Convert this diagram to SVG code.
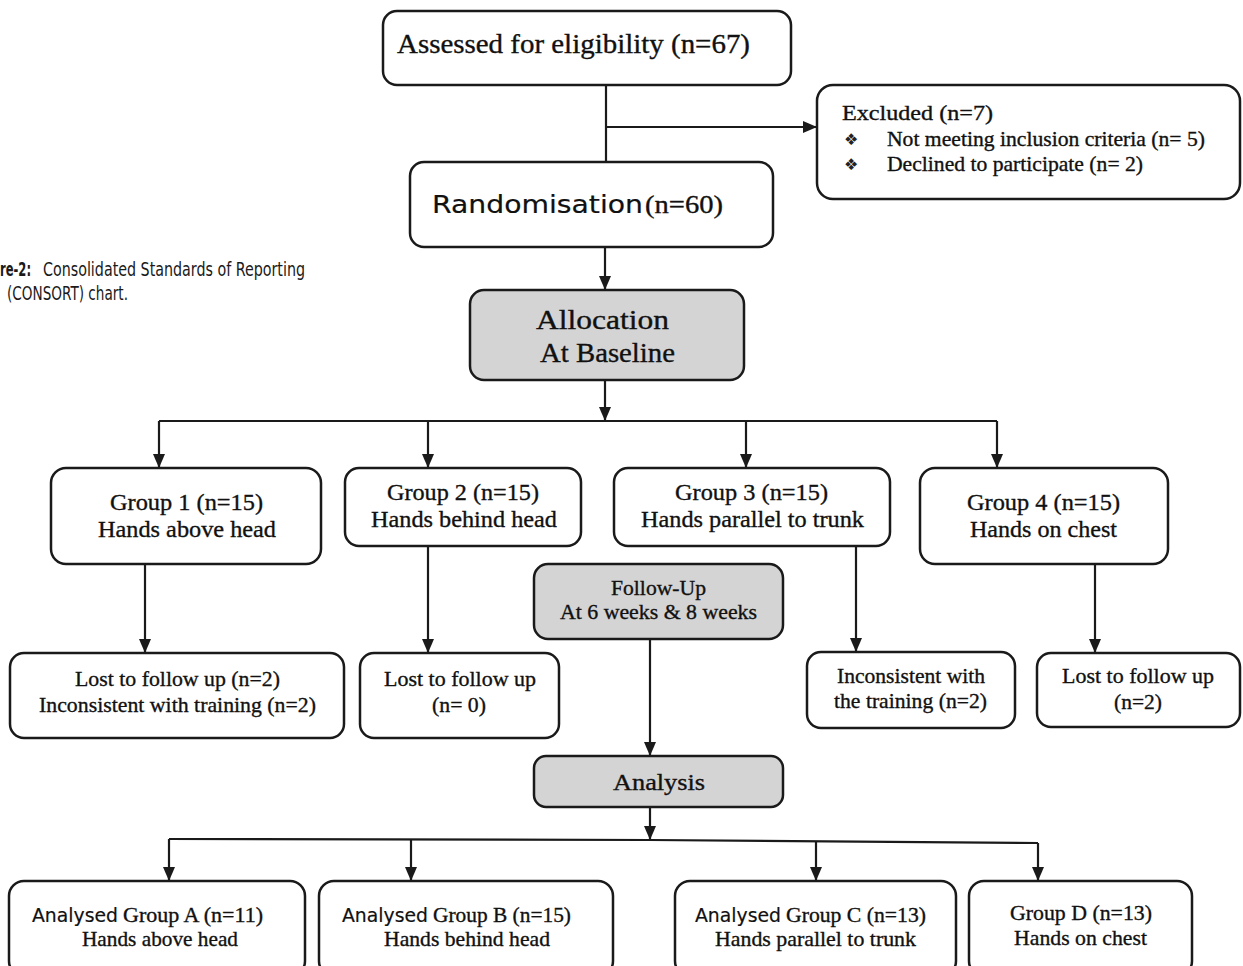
<svg xmlns="http://www.w3.org/2000/svg" width="1243" height="966" viewBox="0 0 1243 966">
<defs>
<style>
.box{fill:#fff;stroke:#1a1a1a;stroke-width:2.5}
.gray{fill:#d4d4d4;stroke:#1a1a1a;stroke-width:2.5}
.ln{fill:none;stroke:#1a1a1a;stroke-width:2.2}
.ar{fill:none;stroke:#1a1a1a;stroke-width:2.2;marker-end:url(#ah)}
.s{font-family:"Liberation Serif","Times New Roman",serif;fill:#111;stroke:#111;stroke-width:0.35}
.ss{font-family:"DejaVu Sans",Verdana,sans-serif;fill:#111;stroke:#111;stroke-width:0.2}
.bul{font-family:"DejaVu Sans",sans-serif;fill:#222;font-size:16px}
.cap{font-family:"Liberation Sans Narrow","DejaVu Sans Condensed","Liberation Sans",sans-serif;font-stretch:condensed;fill:#1a1a1a;font-size:19px}
</style>
<marker id="ah" viewBox="0 0 14 12" refX="14" refY="6" markerWidth="14" markerHeight="12" markerUnits="userSpaceOnUse" orient="auto">
<path d="M0,0 L14,6 L0,12 z" fill="#1a1a1a"/>
</marker>
</defs>
<rect width="1243" height="966" fill="#fff"/>

<g id="caption">
<text class="cap" x="0" y="276" font-weight="bold" textLength="31" lengthAdjust="spacingAndGlyphs">re-2:</text>
<text class="cap" x="43" y="276" textLength="262" lengthAdjust="spacingAndGlyphs">Consolidated Standards of Reporting</text>
<text class="cap" x="7" y="300" textLength="121" lengthAdjust="spacingAndGlyphs">(CONSORT) chart.</text>
</g>

<g id="connectors">
<path class="ln" d="M606,85 V162"/>
<path class="ar" d="M606,127 H817"/>
<path class="ar" d="M605,247 V290"/>
<path class="ar" d="M605,380 V421"/>
<path class="ln" d="M159,421 H997"/>
<path class="ar" d="M159,421 V468"/>
<path class="ar" d="M428,421 V468"/>
<path class="ar" d="M746,421 V468"/>
<path class="ar" d="M997,421 V468"/>
<path class="ar" d="M145,564 V653"/>
<path class="ar" d="M428,546 V653"/>
<path class="ar" d="M856,546 V652"/>
<path class="ar" d="M1095,564 V653"/>
<path class="ar" d="M650,639 V756"/>
<path class="ar" d="M650,807 V840"/>
<path class="ln" d="M169,839 L650,840 L1038,843"/>
<path class="ar" d="M169,839 V881"/>
<path class="ar" d="M411,839 V881"/>
<path class="ar" d="M816,841 V881"/>
<path class="ar" d="M1038,843 V881"/>
</g>

<g id="assessed">
<rect class="box" x="383" y="11" width="408" height="74" rx="14"/>
<text class="s" x="397" y="53" font-size="27" textLength="353" lengthAdjust="spacingAndGlyphs">Assessed for eligibility (n=67)</text>
</g>

<g id="excluded">
<rect class="box" x="817" y="85" width="423" height="114" rx="16"/>
<text class="s" x="842" y="120" font-size="21" textLength="151" lengthAdjust="spacingAndGlyphs">Excluded (n=7)</text>
<text class="bul" x="844" y="145">&#x2756;&#xFE0E;</text>
<text class="s" x="887" y="146" font-size="21" textLength="318" lengthAdjust="spacingAndGlyphs">Not meeting inclusion criteria (n= 5)</text>
<text class="bul" x="844" y="170">&#x2756;&#xFE0E;</text>
<text class="s" x="887" y="171" font-size="21" textLength="256" lengthAdjust="spacingAndGlyphs">Declined to participate (n= 2)</text>
</g>

<g id="randomisation">
<rect class="box" x="410" y="162" width="363" height="85" rx="14"/>
<text class="ss" x="432" y="213" font-size="24" textLength="211" lengthAdjust="spacingAndGlyphs">Randomisation</text>
<text class="s" x="645" y="213" font-size="26" textLength="78" lengthAdjust="spacingAndGlyphs">(n=60)</text>
</g>

<g id="allocation">
<rect class="gray" x="470" y="290" width="274" height="90" rx="14"/>
<text class="s" x="536" y="329" font-size="27" textLength="133" lengthAdjust="spacingAndGlyphs">Allocation</text>
<text class="s" x="540" y="362" font-size="27" textLength="135" lengthAdjust="spacingAndGlyphs">At Baseline</text>
</g>

<g id="group1">
<rect class="box" x="51" y="468" width="270" height="96" rx="15"/>
<text class="s" x="110" y="510" font-size="24" textLength="153" lengthAdjust="spacingAndGlyphs">Group 1 (n=15)</text>
<text class="s" x="98" y="537" font-size="24" textLength="178" lengthAdjust="spacingAndGlyphs">Hands above head</text>
</g>

<g id="group2">
<rect class="box" x="345" y="468" width="236" height="78" rx="14"/>
<text class="s" x="387" y="500" font-size="24" textLength="152" lengthAdjust="spacingAndGlyphs">Group 2 (n=15)</text>
<text class="s" x="371" y="527" font-size="24" textLength="186" lengthAdjust="spacingAndGlyphs">Hands behind head</text>
</g>

<g id="group3">
<rect class="box" x="614" y="468" width="276" height="78" rx="14"/>
<text class="s" x="675" y="500" font-size="24" textLength="153" lengthAdjust="spacingAndGlyphs">Group 3 (n=15)</text>
<text class="s" x="641" y="527" font-size="24" textLength="223" lengthAdjust="spacingAndGlyphs">Hands parallel to trunk</text>
</g>

<g id="group4">
<rect class="box" x="920" y="468" width="248" height="96" rx="15"/>
<text class="s" x="967" y="510" font-size="24" textLength="153" lengthAdjust="spacingAndGlyphs">Group 4 (n=15)</text>
<text class="s" x="970" y="537" font-size="24" textLength="147" lengthAdjust="spacingAndGlyphs">Hands on chest</text>
</g>

<g id="followup">
<rect class="gray" x="534" y="564" width="249" height="75" rx="14"/>
<text class="s" x="611" y="595" font-size="22" textLength="95" lengthAdjust="spacingAndGlyphs">Follow-Up</text>
<text class="s" x="560" y="619" font-size="22" textLength="197" lengthAdjust="spacingAndGlyphs">At 6 weeks &amp; 8 weeks</text>
</g>

<g id="lost1">
<rect class="box" x="10" y="653" width="334" height="85" rx="14"/>
<text class="s" x="75" y="686" font-size="22" textLength="205" lengthAdjust="spacingAndGlyphs">Lost to follow up (n=2)</text>
<text class="s" x="39" y="712" font-size="22" textLength="277" lengthAdjust="spacingAndGlyphs">Inconsistent with training (n=2)</text>
</g>

<g id="lost2">
<rect class="box" x="360" y="653" width="199" height="85" rx="14"/>
<text class="s" x="384" y="686" font-size="22" textLength="152" lengthAdjust="spacingAndGlyphs">Lost to follow up</text>
<text class="s" x="432" y="712" font-size="22" textLength="54" lengthAdjust="spacingAndGlyphs">(n= 0)</text>
</g>

<g id="inconsistent3">
<rect class="box" x="807" y="652" width="208" height="76" rx="14"/>
<text class="s" x="837" y="683" font-size="22" textLength="148" lengthAdjust="spacingAndGlyphs">Inconsistent with</text>
<text class="s" x="834" y="708" font-size="22" textLength="153" lengthAdjust="spacingAndGlyphs">the training (n=2)</text>
</g>

<g id="lost4">
<rect class="box" x="1037" y="653" width="203" height="74" rx="14"/>
<text class="s" x="1062" y="683" font-size="22" textLength="152" lengthAdjust="spacingAndGlyphs">Lost to follow up</text>
<text class="s" x="1114" y="709" font-size="22" textLength="48" lengthAdjust="spacingAndGlyphs">(n=2)</text>
</g>

<g id="analysis">
<rect class="gray" x="534" y="756" width="249" height="51" rx="12"/>
<text class="s" x="613" y="790" font-size="24" textLength="92" lengthAdjust="spacingAndGlyphs">Analysis</text>
</g>

<g id="groupA">
<rect class="box" x="9" y="881" width="296" height="95" rx="15"/>
<text class="ss" x="32" y="922" font-size="19" textLength="86" lengthAdjust="spacingAndGlyphs">Analysed</text>
<text class="s" x="123" y="922" font-size="22" textLength="140" lengthAdjust="spacingAndGlyphs">Group A (n=11)</text>
<text class="s" x="82" y="946" font-size="22" textLength="156" lengthAdjust="spacingAndGlyphs">Hands above head</text>
</g>

<g id="groupB">
<rect class="box" x="319" y="881" width="294" height="95" rx="15"/>
<text class="ss" x="342" y="922" font-size="19" textLength="86" lengthAdjust="spacingAndGlyphs">Analysed</text>
<text class="s" x="433" y="922" font-size="22" textLength="138" lengthAdjust="spacingAndGlyphs">Group B (n=15)</text>
<text class="s" x="384" y="946" font-size="22" textLength="166" lengthAdjust="spacingAndGlyphs">Hands behind head</text>
</g>

<g id="groupC">
<rect class="box" x="675" y="881" width="281" height="95" rx="15"/>
<text class="ss" x="695" y="922" font-size="19" textLength="86" lengthAdjust="spacingAndGlyphs">Analysed</text>
<text class="s" x="786" y="922" font-size="22" textLength="140" lengthAdjust="spacingAndGlyphs">Group C (n=13)</text>
<text class="s" x="715" y="946" font-size="22" textLength="201" lengthAdjust="spacingAndGlyphs">Hands parallel to trunk</text>
</g>

<g id="groupD">
<rect class="box" x="969" y="881" width="223" height="95" rx="15"/>
<text class="s" x="1010" y="920" font-size="22" textLength="142" lengthAdjust="spacingAndGlyphs">Group D (n=13)</text>
<text class="s" x="1014" y="945" font-size="22" textLength="133" lengthAdjust="spacingAndGlyphs">Hands on chest</text>
</g>
</svg>
